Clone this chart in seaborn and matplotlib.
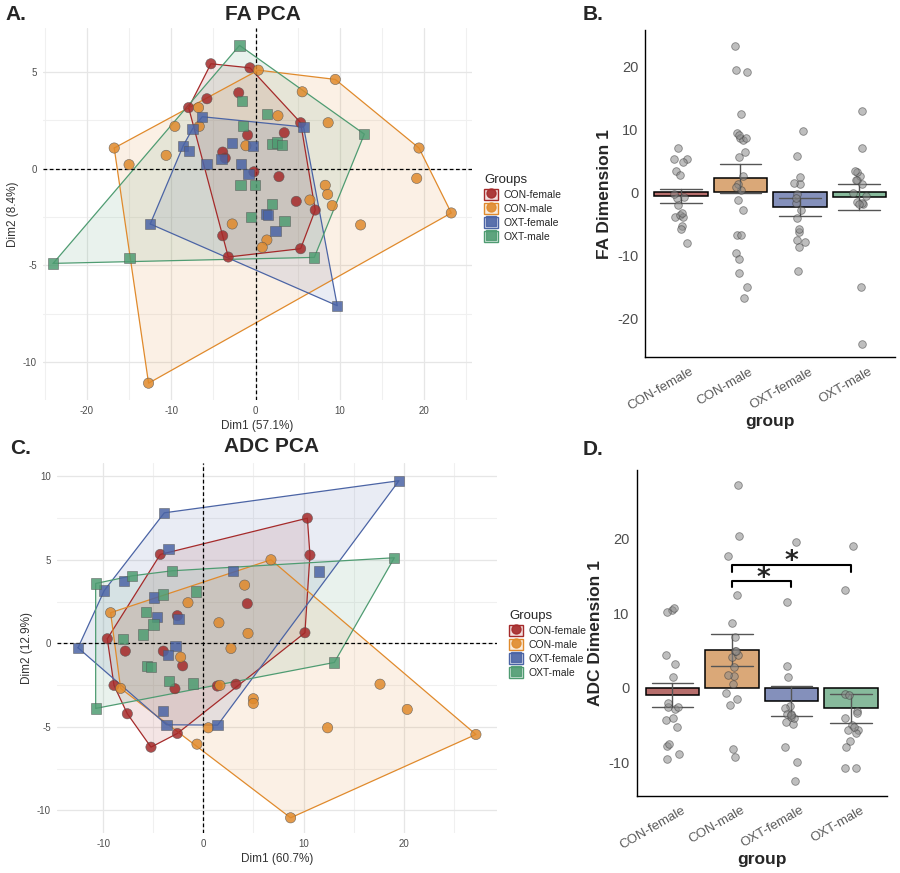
import numpy as np
import pandas as pd
import matplotlib
matplotlib.use('Agg')
import matplotlib.pyplot as plt
import matplotlib.transforms as mtransforms
import seaborn as sns
from matplotlib.patches import Patch
from matplotlib.lines import Line2D

groups = ['CON-female', 'CON-male', 'OXT-female', 'OXT-male']
pt_colors = ['#a52a2a', '#e08a2c', '#4b64a5', '#4f9c72']
bar_colors = ['#c4625f', '#eba767', '#7b8bc4', '#7fc29b']
markers = ['o', 'o', 's', 's']

# FA PCA coordinates
fa_con_f_x = [-5.3, -0.67, -2.0, -5.77, -7.94, 5.34, 3.4, -0.95, -3.9, -3.6, -0.2, 2.77, 4.82, 7.07, -3.9, -3.24, 5.34]
fa_con_f_y = [5.43, 5.22, 3.93, 3.62, 3.16, 2.38, 1.86, 1.74, 0.86, 0.55, -0.16, -0.41, -1.69, -2.14, -3.47, -4.57, -4.14]
fa_con_m_x = [0.32, 9.45, 5.53, -6.76, 2.65, 8.6, -9.57, -6.68, -16.76, -1.15, 19.37, -10.6, -15.0, 19.1, 8.26, 8.54,
              6.44, 9.09, 23.2, -2.77, 12.45, 1.34, 0.79, -12.69]
fa_con_m_y = [5.1, 4.62, 3.98, 3.16, 2.74, 2.38, 2.19, 2.19, 1.07, 1.19, 1.07, 0.69, 0.21, -0.5, -0.86, -1.33,
              -1.62, -1.91, -2.29, -2.86, -2.91, -3.69, -4.07, -11.1]
fa_oxt_f_x = [-6.32, 5.69, -7.47, -8.58, -7.87, -2.77, -0.32, -4.03, -5.81, -1.7, -0.83, 1.26, 1.5, 2.37, -12.49, 9.68]
fa_oxt_f_y = [2.69, 2.16, 2.07, 1.19, 0.93, 1.34, 1.19, 0.52, 0.24, 0.24, -0.28, -2.36, -2.4, -3.21, -2.86, -7.09]
fa_oxt_m_x = [-1.9, -1.62, 1.38, -1.5, 12.89, 2.0, 2.53, 3.16, -1.78, -0.08, 1.94, -0.55, 3.44, -24.0, -14.94, 6.96]
fa_oxt_m_y = [6.38, 3.5, 2.83, 2.2, 1.79, 1.29, 1.36, 1.24, -0.86, -0.86, -1.81, -2.5, -2.69, -4.9, -4.62, -4.59]

# ADC PCA coordinates
adc_con_f_x = [10.38, 10.64, -4.29, 4.39, -2.59, 10.14, -9.58, -7.78, -3.99, -2.06, -8.91, -2.83, 1.4, 3.26, -7.58, -2.59, -5.22]
adc_con_f_y = [7.5, 5.29, 5.33, 2.38, 1.66, 0.64, 0.28, -0.46, -0.46, -1.34, -2.51, -2.71, -2.55, -2.44, -4.21, -5.39, -6.21]
adc_con_m_x = [6.75, 4.12, -1.53, -9.25, 1.56, 4.46, 2.76, -2.26, -8.25, 1.66, 17.63, 4.99, 4.99, 20.35, 12.4, 0.5,
               -0.63, 8.71, 27.2]
adc_con_m_y = [5.01, 3.49, 2.44, 1.84, 1.24, 0.6, -0.3, -0.82, -2.69, -2.51, -2.44, -3.31, -3.59, -3.95, -5.05, -5.05,
               -6.03, -10.44, -5.45]
adc_oxt_f_x = [19.52, -3.89, -3.46, 2.93, 11.54, -7.91, -9.88, -4.89, -4.59, -2.46, -2.76, -3.53, -12.5, -4.02, -3.66, 1.43]
adc_oxt_f_y = [9.74, 7.82, 5.65, 4.33, 4.31, 3.73, 3.17, 2.75, 1.6, 1.46, -0.14, -0.7, -0.26, -4.05, -4.87, -4.89]
adc_oxt_m_x = [19.06, -3.09, -7.08, -10.74, -3.99, -0.76, -5.69, -4.96, -5.99, -7.98, -5.59, -5.22, -3.43, -1.0, 13.07, -10.74]
adc_oxt_m_y = [5.13, 4.35, 4.05, 3.59, 2.93, 3.11, 1.9, 1.14, 0.54, 0.28, -1.36, -1.4, -2.24, -2.4, -1.14, -3.89]


def make_df(xs, ys):
    rows = []
    for g, x, y in zip(groups, xs, ys):
        for a, b in zip(x, y):
            rows.append((g, a, b))
    return pd.DataFrame(rows, columns=['group', 'Dim1', 'Dim2'])


fa = make_df([fa_con_f_x, fa_con_m_x, fa_oxt_f_x, fa_oxt_m_x], [fa_con_f_y, fa_con_m_y, fa_oxt_f_y, fa_oxt_m_y])
adc = make_df([adc_con_f_x, adc_con_m_x, adc_oxt_f_x, adc_oxt_m_x], [adc_con_f_y, adc_con_m_y, adc_oxt_f_y, adc_oxt_m_y])


def hull(pts):
    # monotone chain convex hull
    pts = sorted(set(pts))
    def cross(o, a, b):
        return (a[0] - o[0]) * (b[1] - o[1]) - (a[1] - o[1]) * (b[0] - o[0])
    lower, upper = [], []
    for p in pts:
        while len(lower) >= 2 and cross(lower[-2], lower[-1], p) <= 0:
            lower.pop()
        lower.append(p)
    for p in reversed(pts):
        while len(upper) >= 2 and cross(upper[-2], upper[-1], p) <= 0:
            upper.pop()
        upper.append(p)
    return lower[:-1] + upper[:-1]


sns.set_style('white')
plt.rcParams['font.family'] = ['Liberation Sans', 'DejaVu Sans']
plt.rcParams['axes.unicode_minus'] = False

fig = plt.figure(figsize=(9, 8.73), dpi=100)
pal = dict(zip(groups, pt_colors))
mk = dict(zip(groups, markers))


def pca_panel(ax, df, xlim, ylim, xticks, yticks, xminor, yminor, xlabel, ylabel):
    for v in xminor:
        ax.axvline(v, color='#f0f0f0', lw=0.8, zorder=0)
    for v in yminor:
        ax.axhline(v, color='#f0f0f0', lw=0.8, zorder=0)
    for v in xticks:
        ax.axvline(v, color='#e6e6e6', lw=0.9, zorder=0)
    for v in yticks:
        ax.axhline(v, color='#e6e6e6', lw=0.9, zorder=0)
    for g, c in zip(groups, pt_colors):
        sub = df[df['group'] == g]
        h = hull(list(zip(sub['Dim1'], sub['Dim2'])))
        hx = [p[0] for p in h] + [h[0][0]]
        hy = [p[1] for p in h] + [h[0][1]]
        ax.fill(hx, hy, color=c, alpha=0.12, lw=0, zorder=1)
        ax.plot(hx, hy, color=c, lw=0.9, zorder=2)
    sns.scatterplot(data=df, x='Dim1', y='Dim2', hue='group', style='group', palette=pal, markers=mk,
                    s=55, alpha=0.85, linewidth=0.4, edgecolor='#555555', legend=False, ax=ax, zorder=3)
    ax.axvline(0, color='black', ls=(0, (3, 2)), lw=0.9, zorder=2.5)
    ax.axhline(0, color='black', ls=(0, (3, 2)), lw=0.9, zorder=2.5)
    ax.set_xlim(*xlim)
    ax.set_ylim(*ylim)
    ax.set_xticks(xticks)
    ax.set_yticks(yticks)
    ax.tick_params(length=2.5, width=0.6, color='#666666', labelsize=7, labelcolor='#4d4d4d', pad=2)
    for s in ax.spines.values():
        s.set_visible(False)
    ax.set_xlabel(xlabel, fontsize=8.5, color='#333333', labelpad=3)
    ax.set_ylabel(ylabel, fontsize=8.5, color='#333333', labelpad=3)


axA = fig.add_axes([0.0478, 0.5418, 0.4767, 0.4261])
pca_panel(axA, fa, (-25.2, 25.66), (-11.97, 7.28), [-20, -10, 0, 10, 20], [-10, -5, 0, 5],
          [-25, -15, -5, 5, 15, 25], [-7.5, -2.5, 2.5], 'Dim1 (57.1%)', 'Dim2 (8.4%)')

axC = fig.add_axes([0.0633, 0.0458, 0.4889, 0.4238])
pca_panel(axC, adc, (-14.6, 29.3), (-11.35, 10.8), [-10, 0, 10, 20], [-10, -5, 0, 5, 10],
          [-15, -5, 5, 15, 25], [-7.5, -2.5, 2.5, 7.5], 'Dim1 (60.7%)', 'Dim2 (12.9%)')

handles = []
for c, m in zip(pt_colors, markers):
    handles.append((Patch(facecolor=matplotlib.colors.to_rgba(c, 0.15), edgecolor=c, lw=1.0),
                    Line2D([], [], marker=m, color=c, ls='', markersize=6.5, alpha=0.9)))
for y0 in [1 - 170 / 873, 1 - 606 / 873]:
    x0 = 480 / 900 if y0 > 0.5 else 505 / 900
    fig.legend(handles, groups, loc='upper left', bbox_to_anchor=(x0, y0), frameon=False,
               title='Groups', title_fontsize=9.5, fontsize=7.5, handlelength=1.3, handleheight=1.3,
               labelspacing=0.25, handletextpad=0.6, alignment='left', borderaxespad=0)

# bar panels use Dim1 values
np.random.seed(3)


def bar_panel(ax, df, ylim, yticks, ylabel):
    sns.barplot(data=df, x='group', y='Dim1', hue='group', order=groups, palette=dict(zip(groups, bar_colors)),
                errorbar='se', capsize=0.7, width=0.9, edgecolor='black', linewidth=1.1,
                err_kws={'color': '#555555', 'linewidth': 1.0}, legend=False, ax=ax)
    sns.stripplot(data=df, x='group', y='Dim1', order=groups, color='#8a8a8a', alpha=0.55, size=5.5,
                  jitter=0.12, edgecolor='#3a3a3a', linewidth=0.6, ax=ax, zorder=4)
    ax.set_xlim(-0.6, 3.6)
    ax.set_ylim(*ylim)
    ax.set_yticks(yticks)
    ax.tick_params(axis='y', length=3, width=0.8, labelsize=10.5, labelcolor='#4d4d4d', pad=2)
    ax.tick_params(axis='x', length=3, width=0.8, labelsize=9.5, labelcolor='#5a5a5a', pad=3)
    shift = mtransforms.ScaledTranslation(9 / 100, 0, fig.dpi_scale_trans)
    for lab in ax.get_xticklabels():
        lab.set_rotation(30)
        lab.set_ha('right')
        lab.set_rotation_mode('anchor')
        lab.set_transform(lab.get_transform() + shift)
    for s in ['top', 'right']:
        ax.spines[s].set_visible(False)
    for s in ['left', 'bottom']:
        ax.spines[s].set_color('black')
        ax.spines[s].set_linewidth(1.0)
    ax.set_ylabel(ylabel, fontsize=12.5, fontweight='bold', labelpad=4)
    ax.set_xlabel('group', fontsize=12.5, fontweight='bold')
    ax.xaxis.set_label_coords(0.5, -0.172)


axB = fig.add_axes([0.717, 0.5907, 0.2774, 0.3749])
bar_panel(axB, fa, (-26.1, 25.7), [-20, -10, 0, 10, 20], 'FA Dimension 1')

axD = fig.add_axes([0.7074, 0.0882, 0.2778, 0.3734])
bar_panel(axD, adc, (-14.5, 29.2), [-10, 0, 10, 20], 'ADC Dimension 1')

# significance brackets
axD.plot([1, 1, 2, 2], [13.5, 14.3, 14.3, 13.5], color='black', lw=1.5)
axD.plot([1, 1, 3, 3], [15.5, 16.5, 16.5, 15.5], color='black', lw=1.5)
axD.text(1.53, 14.6, '*', ha='center', va='center', fontsize=19, fontweight='bold', family='DejaVu Sans')
axD.text(2.0, 16.9, '*', ha='center', va='center', fontsize=19, fontweight='bold', family='DejaVu Sans')

# titles and panel letters
fig.text(263 / 900, 1 - 14 / 873, 'FA PCA', ha='center', va='center', fontsize=15, fontweight='bold')
fig.text(272 / 900, 1 - 447 / 873, 'ADC PCA', ha='center', va='center', fontsize=15, fontweight='bold')
fig.text(5 / 900, 1 - 15 / 873, 'A.', ha='left', va='center', fontsize=15, fontweight='bold')
fig.text(583 / 900, 1 - 15 / 873, 'B.', ha='left', va='center', fontsize=15, fontweight='bold')
fig.text(10 / 900, 1 - 449 / 873, 'C.', ha='left', va='center', fontsize=15, fontweight='bold')
fig.text(583 / 900, 1 - 450 / 873, 'D.', ha='left', va='center', fontsize=15, fontweight='bold')

fig.savefig('out.png', dpi=100)
